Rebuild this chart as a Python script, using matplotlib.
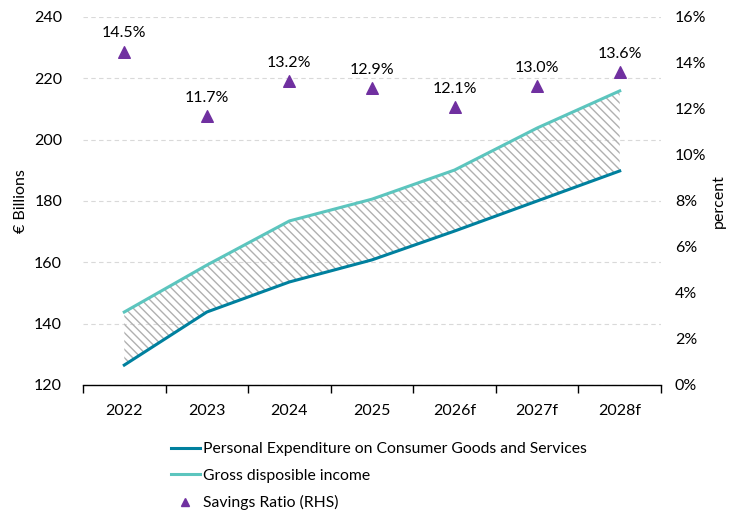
import numpy as np
import matplotlib.pyplot as plt
from matplotlib.lines import Line2D
from matplotlib.ticker import PercentFormatter

plt.rcParams['font.family'] = ['Lato', 'DejaVu Sans']
plt.rcParams['hatch.linewidth'] = 1.0
plt.rcParams['hatch.color'] = '#b0b0b0'

# Data
years = ['2022', '2023', '2024', '2025', '2026f', '2027f', '2028f']
expenditure = [126.5, 143.8, 153.6, 160.8, 170.2, 180.0, 189.8]
income = [143.8, 159.1, 173.5, 180.6, 190.1, 203.8, 215.9]
savings_ratio = [14.5, 11.7, 13.2, 12.9, 12.1, 13.0, 13.6]

EXP_COLOR = '#00809E'
INC_COLOR = '#5CC5BE'
SAV_COLOR = '#7030A0'
FS = 11.5

fig = plt.figure(figsize=(7.56, 5.21), dpi=100)
ax = fig.add_axes([83 / 756, 1 - 385 / 521, (661 - 83) / 756, (385 - 17) / 521])
x = np.arange(len(years))

ax.fill_between(x, expenditure, income, facecolor='none', edgecolor='#b0b0b0',
                hatch='\\\\\\\\', linewidth=0)
ax.plot(x, expenditure, color=EXP_COLOR, linewidth=2.2, zorder=3)
ax.plot(x, income, color=INC_COLOR, linewidth=2.2, zorder=3)

ax.set_xlim(-0.5, len(years) - 0.5)
ax.set_ylim(120, 240)
ax.set_yticks(np.arange(120, 241, 20))
ax.set_xticks(x)
ax.set_xticklabels(years)
ax.set_xticks(np.arange(-0.5, len(years)), minor=True)
ax.tick_params(axis='x', which='major', length=0, pad=14, labelsize=FS)
ax.tick_params(axis='x', which='minor', length=6, width=1, color='black')
ax.tick_params(axis='y', length=0, pad=15, labelsize=FS)
ax.grid(axis='y', linestyle=(0, (4, 3)), color='#d9d9d9', linewidth=0.8)
ax.set_axisbelow(True)
for side in ['top', 'left', 'right']:
    ax.spines[side].set_visible(False)
ax.spines['bottom'].set_color('black')
ax.spines['bottom'].set_linewidth(1.0)
ax.set_ylabel('€ Billions', fontsize=FS, labelpad=4)

ax2 = ax.twinx()
ax2.set_ylim(0, 16)
ax2.set_yticks(np.arange(0, 17, 2))
ax2.yaxis.set_major_formatter(PercentFormatter(decimals=0))
ax2.tick_params(axis='y', length=0, pad=10, labelsize=FS)
for side in ['top', 'left', 'right', 'bottom']:
    ax2.spines[side].set_visible(False)
ax2.scatter(x, savings_ratio, marker='^', s=70, color=SAV_COLOR, zorder=4)
for xi, v in zip(x, savings_ratio):
    ax2.annotate(f'{v:.1f}%', (xi, v), xytext=(0, 8), textcoords='offset points',
                 ha='center', va='bottom', fontsize=FS)
ax2.set_ylabel('percent', fontsize=FS, labelpad=4)

handles = [
    Line2D([], [], color=EXP_COLOR, linewidth=2.2),
    Line2D([], [], color=INC_COLOR, linewidth=2.2),
    Line2D([], [], color=SAV_COLOR, marker='^', linestyle='none', markersize=6),
]
labels = ['Personal Expenditure on Consumer Goods and Services',
          'Gross disposible income', 'Savings Ratio (RHS)']
fig.legend(handles, labels, loc='upper left', bbox_to_anchor=(165 / 756, 1 - 436 / 521),
           frameon=False, fontsize=11.3, handlelength=1.8, handletextpad=0.2,
           labelspacing=0.8, borderaxespad=0)

fig.savefig('out.png', dpi=100)
